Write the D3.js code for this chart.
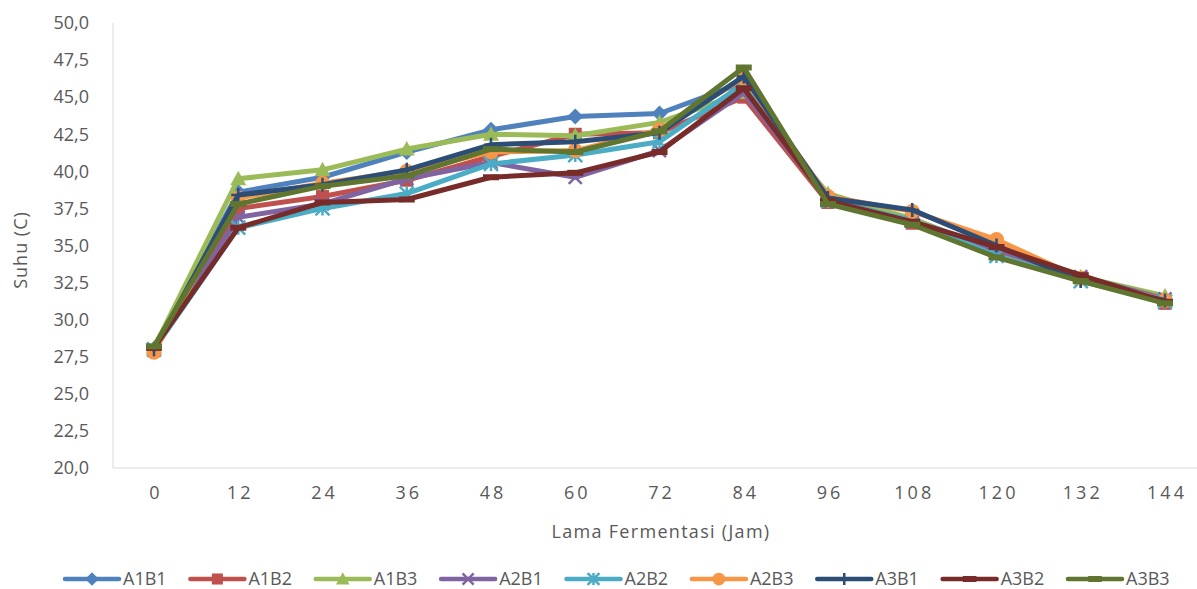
<!DOCTYPE html>
<html>
<head>
<meta charset="utf-8">
<script src="https://cdn.jsdelivr.net/npm/d3@7"></script>
<style>
  html, body { margin: 0; padding: 0; background: #fff; }
  svg { display: block; }
  text { font-family: "Open Sans", sans-serif; fill: #595959; }
</style>
</head>
<body>
<svg id="chart" width="1197" height="589"></svg>
<script>
const categories = ["0","12","24","36","48","60","72","84","96","108","120","132","144"];
const seriesNames = ["A1B1","A1B2","A1B3","A2B1","A2B2","A2B3","A3B1","A3B2","A3B3"];
const A1B1 = [28.0, 38.6, 39.6, 41.3, 42.8, 43.7, 43.9, 46.0, 38.2, 36.8, 34.6, 32.8, 31.4];
const A1B2 = [27.9, 37.5, 38.3, 39.4, 41.0, 42.5, 42.6, 45.0, 37.9, 36.5, 34.6, 32.8, 31.1];
const A1B3 = [28.1, 39.5, 40.1, 41.5, 42.5, 42.4, 43.3, 45.3, 38.5, 36.8, 34.5, 32.9, 31.6];
const A2B1 = [28.0, 36.9, 37.8, 39.5, 40.6, 39.6, 41.4, 45.3, 38.1, 36.6, 34.7, 32.9, 31.4];
const A2B2 = [28.0, 36.2, 37.5, 38.5, 40.5, 41.1, 42.0, 45.9, 38.0, 36.7, 34.3, 32.6, 31.2];
const A2B3 = [27.8, 38.2, 39.2, 40.0, 41.3, 41.4, 42.8, 46.3, 38.3, 37.3, 35.4, 32.8, 31.3];
const A3B1 = [28.0, 38.4, 39.1, 40.1, 41.8, 42.0, 42.6, 46.4, 38.2, 37.4, 35.0, 32.6, 31.3];
const A3B2 = [28.1, 36.2, 37.9, 38.1, 39.6, 39.9, 41.3, 45.6, 38.0, 36.6, 34.9, 33.0, 31.2];
const A3B3 = [28.2, 37.8, 39.0, 39.7, 41.5, 41.3, 42.7, 47.0, 37.8, 36.4, 34.2, 32.6, 31.1];
const yTicks = [20, 22.5, 25, 27.5, 30, 32.5, 35, 37.5, 40, 42.5, 45, 47.5, 50];
const xTitle = "Lama Fermentasi (Jam)";
const yTitle = "Suhu (C)";

const seriesValues = [A1B1, A1B2, A1B3, A2B1, A2B2, A2B3, A3B1, A3B2, A3B3];
const colors = ["#4F81BD","#C0504D","#9BBB59","#8064A2","#4BACC6","#F79646","#2C4D75","#772C2A","#5F7530"];
const markers = ["diamond","square","triangle","x","star","circle","plus","dash","dash"];

const svg = d3.select("#chart");
const plot = { left: 113, right: 1197, top: 23, bottom: 468 };

const x = d3.scalePoint().domain(categories).range([154, 1165]);
const y = d3.scaleLinear().domain([20, 50]).range([plot.bottom, plot.top]);

svg.append("line")
  .attr("x1", plot.left).attr("x2", plot.left)
  .attr("y1", plot.top).attr("y2", plot.bottom)
  .attr("stroke", "#D9D9D9").attr("stroke-width", 1);
svg.append("line")
  .attr("x1", plot.left).attr("x2", plot.right)
  .attr("y1", plot.bottom).attr("y2", plot.bottom)
  .attr("stroke", "#D9D9D9").attr("stroke-width", 1);

const fmt = d => d3.format(".1f")(d).replace(".", ",");
const yAxis = d3.axisLeft(y).tickValues(yTicks).tickFormat(fmt).tickSize(0).tickPadding(24);
const gy = svg.append("g").attr("transform", `translate(${plot.left},0)`).call(yAxis);
gy.select(".domain").remove();
gy.selectAll("text").style("font-size", "18px").style("font-family", "Open Sans, sans-serif").attr("fill", "#595959");

const xAxis = d3.axisBottom(x).tickSize(0).tickPadding(18);
const gx = svg.append("g").attr("transform", `translate(0,${plot.bottom})`).call(xAxis);
gx.select(".domain").remove();
gx.selectAll("text").style("font-size", "18px").style("font-family", "Open Sans, sans-serif")
  .style("letter-spacing", "3px").attr("dx", "1.5px").attr("fill", "#595959");

svg.append("text").attr("x", 661).attr("y", 538).attr("text-anchor", "middle")
  .style("font-size", "18px").style("letter-spacing", "1.3px").text(xTitle);
svg.append("text").attr("transform", "translate(27,250) rotate(-90)").attr("text-anchor", "middle")
  .style("font-size", "18px").style("letter-spacing", "1px").text(yTitle);

function drawMarker(g, type, color, cx, cy, scale) {
  const s = scale || 1;
  if (type === "diamond") {
    const r = 8 * s;
    g.append("path").attr("d", `M${cx},${cy-r}L${cx+r},${cy}L${cx},${cy+r}L${cx-r},${cy}Z`).attr("fill", color);
  } else if (type === "square") {
    const r = 6.5 * s;
    g.append("rect").attr("x", cx-r).attr("y", cy-r).attr("width", 2*r).attr("height", 2*r).attr("fill", color);
  } else if (type === "triangle") {
    const r = 8 * s;
    g.append("path").attr("d", `M${cx},${cy-r}L${cx+r},${cy+r*0.8}L${cx-r},${cy+r*0.8}Z`).attr("fill", color);
  } else if (type === "x") {
    const r = 6.5 * s;
    g.append("path").attr("d", `M${cx-r},${cy-r}L${cx+r},${cy+r}M${cx-r},${cy+r}L${cx+r},${cy-r}`)
      .attr("stroke", color).attr("stroke-width", 2.5).attr("fill", "none");
  } else if (type === "star") {
    const r = 7 * s;
    g.append("path").attr("d", `M${cx-r},${cy-r}L${cx+r},${cy+r}M${cx-r},${cy+r}L${cx+r},${cy-r}M${cx},${cy-r}L${cx},${cy+r}`)
      .attr("stroke", color).attr("stroke-width", 2.5).attr("fill", "none");
  } else if (type === "circle") {
    g.append("circle").attr("cx", cx).attr("cy", cy).attr("r", 7.5 * s).attr("fill", color);
  } else if (type === "plus") {
    const r = 7 * s;
    g.append("path").attr("d", `M${cx-r},${cy}L${cx+r},${cy}M${cx},${cy-r}L${cx},${cy+r}`)
      .attr("stroke", color).attr("stroke-width", 2.5).attr("fill", "none");
  } else if (type === "dash") {
    const r = 8 * s;
    g.append("path").attr("d", `M${cx-r},${cy}L${cx+r},${cy}`)
      .attr("stroke", color).attr("stroke-width", 6).attr("fill", "none");
  }
}

const line = d3.line().x((d, i) => x(categories[i])).y(d => y(d));

seriesValues.forEach((vals, si) => {
  const g = svg.append("g");
  g.append("path").datum(vals).attr("d", line)
    .attr("fill", "none").attr("stroke", colors[si]).attr("stroke-width", 5)
    .attr("stroke-linejoin", "round").attr("stroke-linecap", "round");
  vals.forEach((v, i) => drawMarker(g, markers[si], colors[si], x(categories[i]), y(v)));
});

const legendY = 579;
const legendX = d3.scaleLinear().domain([0, seriesNames.length - 1]).range([65, 1068]);
seriesNames.forEach((name, i) => {
  const lx = legendX(i);
  const g = svg.append("g");
  g.append("line").attr("x1", lx).attr("x2", lx + 54).attr("y1", legendY).attr("y2", legendY)
    .attr("stroke", colors[i]).attr("stroke-width", 4.5).attr("stroke-linecap", "round");
  drawMarker(g, markers[i], colors[i], lx + 27, legendY, 0.85);
  g.append("text").attr("x", lx + 58).attr("y", legendY + 6)
    .style("font-size", "18px").text(name);
});
</script>
</body>
</html>
